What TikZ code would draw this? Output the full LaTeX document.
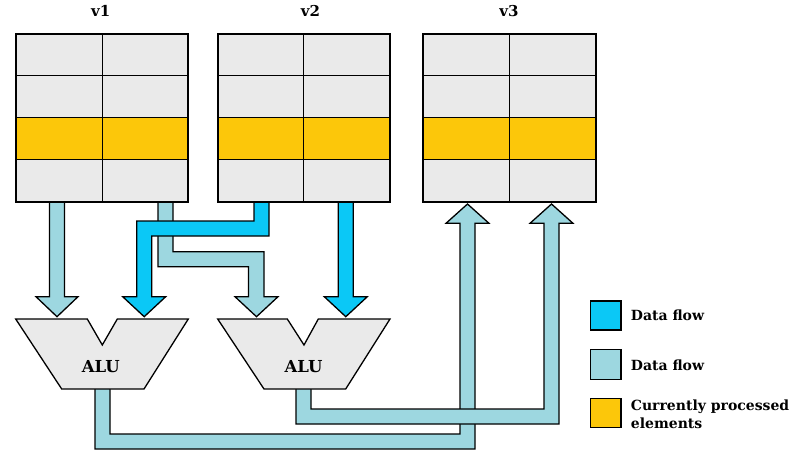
\documentclass[tikz,border=0pt]{standalone}
\usepackage{fontspec}
\setmainfont{DejaVu Serif}
\definecolor{cellgray}{HTML}{EAEAEA}
\definecolor{curyellow}{HTML}{FCC70A}
\definecolor{flowcyan}{HTML}{0BC8F6}
\definecolor{flowlight}{HTML}{9DD7E0}
\tikzset{
  fatflow/.style={draw=black, line width=1.3pt, line join=miter},
  cyanflow/.style={fatflow, fill=flowcyan},
  lightflow/.style={fatflow, fill=flowlight},
  alubox/.style={draw=black, line width=1.3pt, fill=cellgray, line join=miter},
  veclabel/.style={font=\bfseries\fontsize{15}{17}\selectfont, anchor=base, inner sep=0pt},
  alulabel/.style={font=\bfseries\fontsize{16.5}{19}\selectfont, anchor=base, inner sep=0pt},
  legtext/.style={font=\bfseries\fontsize{14}{16}\selectfont, anchor=base west, inner sep=0pt},
  legbox/.style={draw=black, line width=1.4pt},
}
\newcommand{\vecbox}[3]{% name, left x, right x
  \coordinate (#1-nw) at (#2,33.7);
  \coordinate (#1-se) at (#3,201.7);
  \fill[cellgray] (#2,33.7) rectangle (#3,117.7);
  \fill[curyellow] (#2,117.7) rectangle (#3,159.7);
  \fill[cellgray] (#2,159.7) rectangle (#3,201.7);
  \draw[line width=0.9pt] (#2,75.7) -- (#3,75.7) (#2,117.7) -- (#3,117.7) (#2,159.7) -- (#3,159.7);
  \draw[line width=0.9pt] ({(#2+#3)/2},33.7) -- ({(#2+#3)/2},201.7);
  \draw[line width=1.7pt] (#2,33.7) rectangle (#3,201.7);
}
\begin{document}
\begin{tikzpicture}[x=1pt,y=-1pt]
\useasboundingbox (0,0) rectangle (800,450);

% ---- flows into ALUs ----
% light: v1 right column -> ALU2 left input
\draw[lightflow] (158,201)--(158,266.7)--(248.5,266.7)--(248.5,296.7)--(235,296.7)--(256.5,316.7)--(278,296.7)--(264,296.7)--(264,251.7)--(173,251.7)--(173,201)--cycle;
% cyan: v2 left column -> ALU1 right input
\draw[cyanflow] (254,201)--(254,221)--(136.7,221)--(136.7,296.7)--(122.7,296.7)--(144.2,316.7)--(165.7,296.7)--(151.7,296.7)--(151.7,236)--(269,236)--(269,201)--cycle;
% light: v1 left column -> ALU1 left input
\draw[lightflow] (49.5,201)--(49.5,296.7)--(36,296.7)--(57,316.7)--(78,296.7)--(64.5,296.7)--(64.5,201)--cycle;
% cyan: v2 right column -> ALU2 right input
\draw[cyanflow] (338.3,201)--(338.3,296.7)--(324.3,296.7)--(345.8,316.7)--(367.3,296.7)--(353.3,296.7)--(353.3,201)--cycle;

% ---- flows from ALUs to v3 ----
\draw[lightflow] (95,388)--(95,449)--(475,449)--(475,223.3)--(489,223.3)--(467.5,204)--(446,223.3)--(460,223.3)--(460,434)--(110,434)--(110,388)--cycle;
\draw[lightflow] (296,388)--(296,424)--(559,424)--(559,223.3)--(573,223.3)--(551.5,204)--(530,223.3)--(544,223.3)--(544,409)--(311,409)--(311,388)--cycle;

% ---- vectors ----
\vecbox{v1}{16}{188}
\vecbox{v2}{217.7}{390}
\vecbox{v3}{422.7}{595.7}
\node[veclabel] (l1) at (100.8,16.5) {v1};
\node[veclabel] (l2) at (310.5,16.5) {v2};
\node[veclabel] (l3) at (509,16.5) {v3};

% ---- ALUs ----
\draw[alubox] (15.7,319)--(87.3,319)--(102.3,345)--(117.3,319)--(188.3,319)--(144,389)--(61.7,389)--cycle;
\node[alulabel] (alu1) at (100.8,372.7) {ALU};
\draw[alubox] (217.7,319)--(287.3,319)--(304,345)--(318.3,319)--(390,319)--(345.7,389)--(264,389)--cycle;
\node[alulabel] (alu2) at (303.5,372.7) {ALU};

% ---- legend ----
\draw[legbox, fill=flowcyan] (590.7,301) rectangle (621,330);
\node[legtext] (lg1) at (630.7,320.7) {Data flow};
\draw[legbox, fill=flowlight] (590.7,349.3) rectangle (621,379.3);
\node[legtext] (lg2) at (630.7,370) {Data flow};
\draw[legbox, fill=curyellow] (590.7,398.3) rectangle (621,427.3);
\node[legtext] (lg3) at (630.7,410) {Currently processed};
\node[legtext] (lg4) at (630.7,428) {elements};
\end{tikzpicture}
\end{document}
